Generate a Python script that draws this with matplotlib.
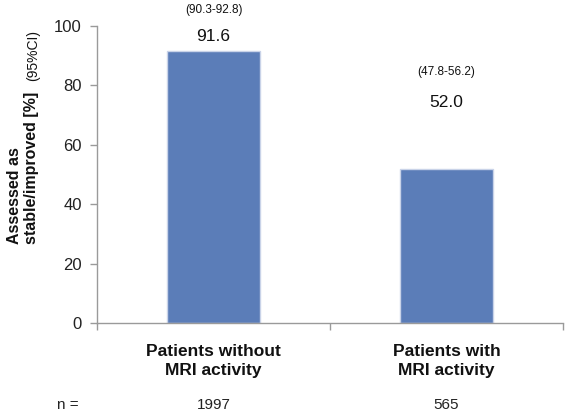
import matplotlib.pyplot as plt
from matplotlib.transforms import blended_transform_factory

plt.rcParams['font.family'] = ['Liberation Sans', 'DejaVu Sans']

# data
groups = ['Patients without\nMRI activity', 'Patients with\nMRI activity']
values = [91.6, 52.0]
ci_labels = ['(90.3-92.8)', '(47.8-56.2)']
n_counts = ['1997', '565']
value_label_y = [96.3, 74.4]
ci_label_y = [105.4, 84.5]

bar_color = '#5b7db8'
grey = '#9a9a9a'

fig = plt.figure(figsize=(5.68, 4.17), dpi=100)
ax = fig.add_axes([97 / 568, 1 - 323 / 417, 466 / 568, 297 / 417])

x = list(range(len(groups)))
ax.bar(x, values, width=0.4, color=bar_color, edgecolor='#c9d3e8', linewidth=1)

ax.set_xlim(-0.5, 1.5)
ax.set_ylim(0, 100)
ax.set_yticks([0, 20, 40, 60, 80, 100])
ax.tick_params(axis='y', labelsize=12, labelcolor='#222222', color=grey,
               length=5, width=1, pad=6)

# category labels under bars, boundary ticks on the x axis
ax.set_xticks(x)
ax.set_xticklabels(groups, fontsize=12.5, fontweight='bold', color='#111111',
                   linespacing=1.35)
ax.tick_params(axis='x', length=0, pad=15)
ax.set_xticks([-0.5, 0.5, 1.5], minor=True)
ax.tick_params(axis='x', which='minor', length=5, width=1, color=grey)

for side in ['top', 'right']:
    ax.spines[side].set_visible(False)
for side in ['left', 'bottom']:
    ax.spines[side].set_color(grey)
    ax.spines[side].set_linewidth(1)

for xi, v, ci, vy, cy in zip(x, values, ci_labels, value_label_y, ci_label_y):
    ax.text(xi, vy, f'{v:.1f}', ha='center', va='center', fontsize=12.5,
            color='#111111', clip_on=False)
    ax.text(xi, cy, ci, ha='center', va='center', fontsize=8.5,
            color='#111111', clip_on=False)

# n row
trans = blended_transform_factory(ax.transData, fig.transFigure)
ny = 1 - 405 / 417
for xi, n in zip(x, n_counts):
    ax.text(xi, ny, n, transform=trans, ha='center', va='center', fontsize=11,
            color='#222222')
fig.text(68 / 568, ny, 'n =', ha='center', va='center', fontsize=11,
         color='#222222')

# y label (two bold lines + small CI note)
fig.text(15 / 568, 1 - 244 / 417, 'Assessed as', rotation=90, ha='center',
         va='bottom', fontsize=11.5, fontweight='bold', color='#111111')
fig.text(32 / 568, 1 - 244 / 417, 'stable/improved [%]', rotation=90,
         ha='center', va='bottom', fontsize=11.5, fontweight='bold',
         color='#111111')
fig.text(33 / 568, 1 - 81 / 417, '(95%CI)', rotation=90, ha='center',
         va='bottom', fontsize=10, color='#111111')

fig.savefig('out.png', dpi=100)
